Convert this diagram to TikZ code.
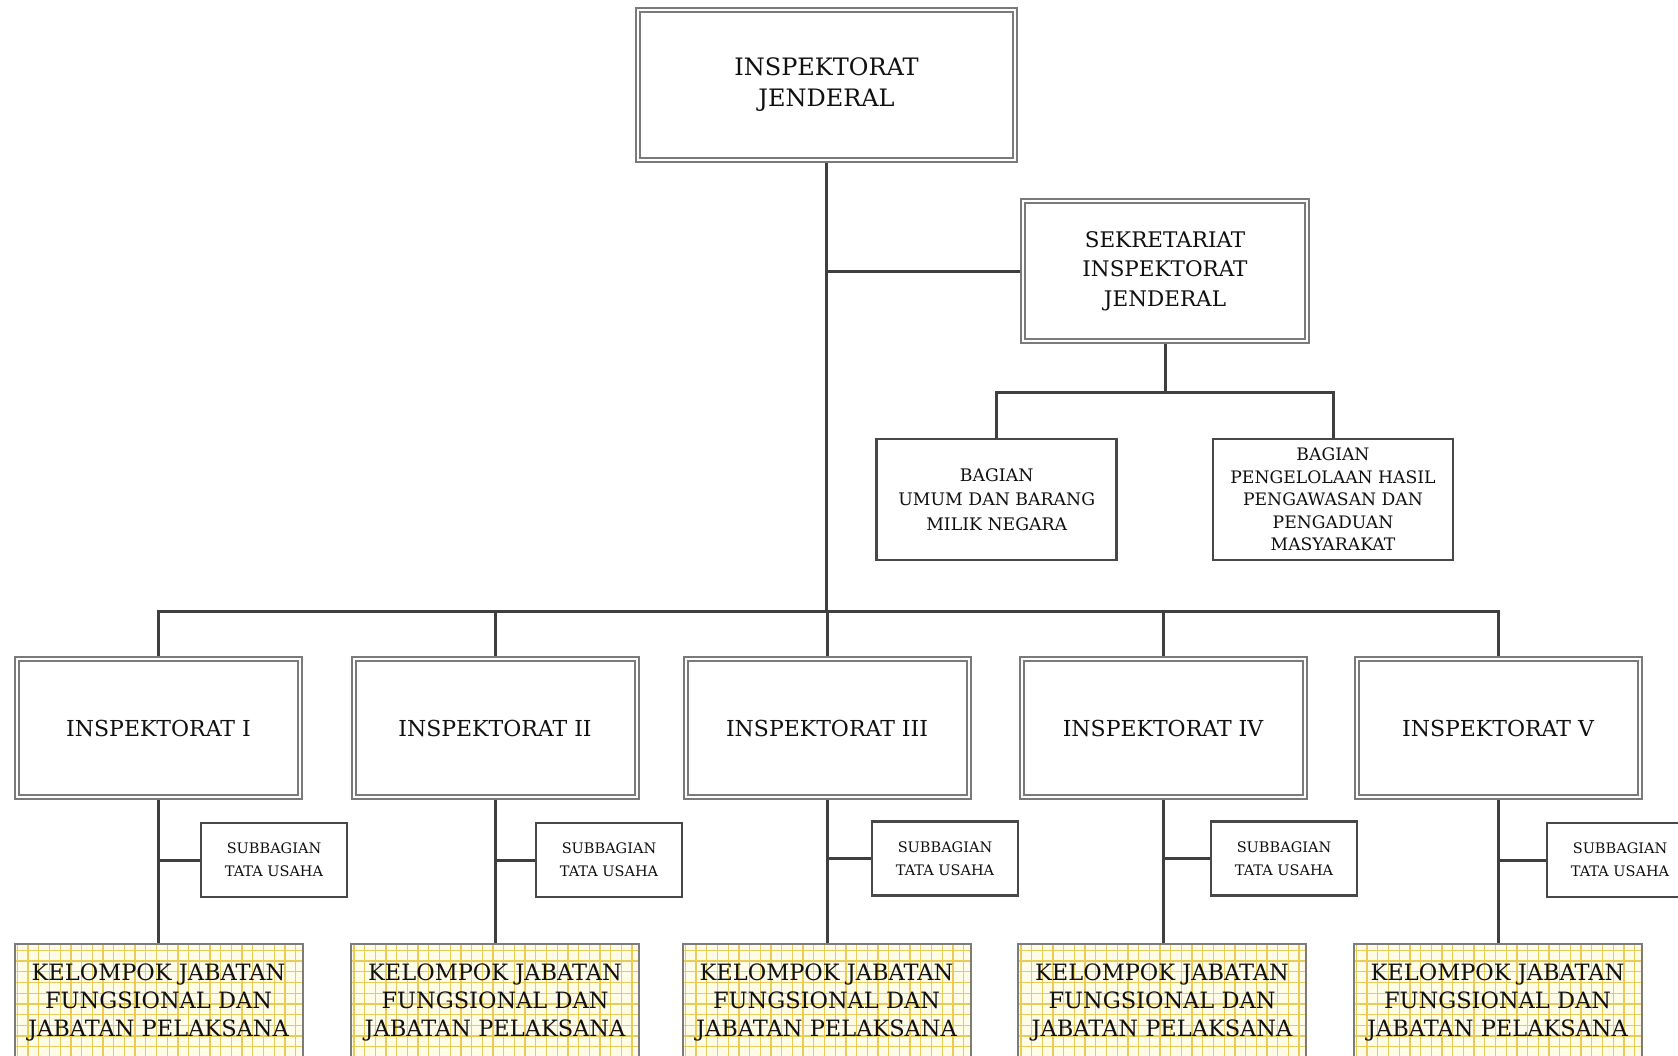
\documentclass[tikz,border=0pt]{standalone}
\usepackage{fontspec}
\setmainfont{DejaVu Serif}
\usetikzlibrary{backgrounds}
\definecolor{linec}{HTML}{3F3F3F}
\definecolor{dblc}{HTML}{7A7A7A}
\definecolor{boxc}{HTML}{484848}
\definecolor{gridc}{HTML}{EBCB58}
\definecolor{gridbg}{HTML}{FFFCE8}
\definecolor{kelb}{HTML}{7C7C7C}
\definecolor{txt}{HTML}{101010}
\begin{document}
\begin{tikzpicture}[x=1pt,y=-1pt,
  dblbox/.style={draw=dblc, double=white, double distance=2pt, line width=2pt,
    fill=white, inner sep=0pt, outer sep=0pt, align=center, text=txt},
  topbox/.style={dblbox, minimum width=377pt, minimum height=150pt,
    font=\fontsize{24}{31}\selectfont},
  sekbox/.style={dblbox, minimum width=284pt, minimum height=140pt,
    font=\fontsize{21.5}{29.5}\selectfont},
  insbox/.style={dblbox, minimum width=283pt, minimum height=138pt,
    font=\fontsize{22}{28}\selectfont},
  sglbox/.style={draw=boxc, line width=2.5pt, fill=white, inner sep=0pt,
    outer sep=0pt, align=center, text=txt},
  bagbox/.style={sglbox, minimum width=240pt, minimum height=121pt},
  subbox/.style={sglbox, minimum width=146pt, minimum height=74pt,
    font=\fontsize{14.5}{23}\selectfont},
  kelbox/.style={draw=kelb, line width=2pt, fill=gridbg, inner sep=0pt,
    outer sep=0pt, align=center, text=txt, anchor=north,
    minimum width=288pt, minimum height=116pt,
    font=\fontsize{22.5}{28}\selectfont,
    path picture={\draw[gridc, line width=1.3pt, step=10.7pt]
      (path picture bounding box.south west) grid (path picture bounding box.north east);}},
  conn/.style={draw=linec, line width=3pt}
]
\useasboundingbox (0,0) rectangle (1678,1055);
\clip (0,0) rectangle (1678,1055);

% top
\node[topbox] (top) at (826.5,85) {INSPEKTORAT\\JENDERAL};
\node[sekbox] (sek) at (1165,271) {SEKRETARIAT\\INSPEKTORAT\\JENDERAL};
\node[bagbox, font=\fontsize{17.3}{24.5}\selectfont] (bag1) at (996.7,499.5)
  {BAGIAN\\UMUM DAN BARANG\\MILIK NEGARA};
\node[bagbox, font=\fontsize{17.2}{22.5}\selectfont] (bag2) at (1333,499.5)
  {BAGIAN\\PENGELOLAAN HASIL\\PENGAWASAN DAN\\PENGADUAN\\MASYARAKAT};

% inspektorat
\node[insbox] (ins1) at (158.5,728) {INSPEKTORAT I};
\node[insbox] (ins2) at (495,728) {INSPEKTORAT II};
\node[insbox] (ins3) at (827,728) {INSPEKTORAT III};
\node[insbox] (ins4) at (1163,728) {INSPEKTORAT IV};
\node[insbox] (ins5) at (1498,728) {INSPEKTORAT V};

% subbagian
\node[subbox] (sub1) at (274,860) {SUBBAGIAN\\TATA USAHA};
\node[subbox] (sub2) at (609,860) {SUBBAGIAN\\TATA USAHA};
\node[subbox] (sub3) at (945,858.5) {SUBBAGIAN\\TATA USAHA};
\node[subbox] (sub4) at (1284,858.5) {SUBBAGIAN\\TATA USAHA};
\node[subbox] (sub5) at (1620,860) {SUBBAGIAN\\TATA USAHA};

% kelompok
\node[kelbox] (kel1) at (158.5,944) {KELOMPOK JABATAN\\FUNGSIONAL DAN\\JABATAN PELAKSANA};
\node[kelbox] (kel2) at (495,944) {KELOMPOK JABATAN\\FUNGSIONAL DAN\\JABATAN PELAKSANA};
\node[kelbox] (kel3) at (826.5,944) {KELOMPOK JABATAN\\FUNGSIONAL DAN\\JABATAN PELAKSANA};
\node[kelbox] (kel4) at (1162,944) {KELOMPOK JABATAN\\FUNGSIONAL DAN\\JABATAN PELAKSANA};
\node[kelbox] (kel5) at (1497.5,944) {KELOMPOK JABATAN\\FUNGSIONAL DAN\\JABATAN PELAKSANA};

\coordinate (bus) at (826.5,611);
\coordinate (sekj) at (1165,392);

\begin{pgfonlayer}{background}
  \fill[white] (0,0) rectangle (1678,1055);
  \draw[conn] (top.south) -- (bus);
  \draw[conn] (top.south |- sek.west) -- (sek.west);
  \draw[conn] (sek.south) -- (sekj);
  \draw[conn] (bag1.north) |- (sekj) -| (bag2.north);
  \draw[conn] (ins1.north) -- (ins1.north |- bus) -- (ins5.north |- bus) -- (ins5.north);
  \foreach \i in {2,3,4} {\draw[conn] (ins\i.north) -- (ins\i.north |- bus);}
  \foreach \i in {1,...,5} {
    \draw[conn] (ins\i.south) -- (ins\i.south |- kel\i.north);
    \draw[conn] (ins\i.south |- sub\i.west) -- (sub\i.west);
  }
\end{pgfonlayer}
\end{tikzpicture}
\end{document}
